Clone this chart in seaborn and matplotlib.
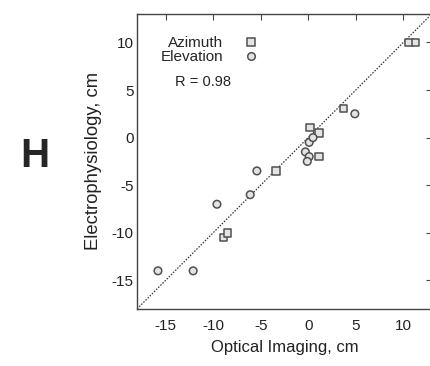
import matplotlib
matplotlib.use("Agg")
import matplotlib.pyplot as plt
import seaborn as sns
import pandas as pd

# 값
azi_x = [-8.9, -8.5, -3.4, 1.15, 0.2, 1.15, 3.7, 10.6, 11.3]
azi_y = [-10.5, -10.0, -3.5, -2.0, 1.05, 0.5, 3.05, 10.0, 10.0]
ele_x = [-15.8, -12.1, -9.6, -6.1, -5.4, -0.3, 0.1, -0.1, 0.1, 0.5, 4.9]
ele_y = [-14.0, -14.0, -7.0, -6.0, -3.5, -1.5, -2.0, -2.5, -0.5, 0.0, 2.5]
ticks = [-15, -10, -5, 0, 5, 10]
lims = [-18, 13]

df = pd.DataFrame({
    'x': azi_x + ele_x,
    'y': azi_y + ele_y,
    'kind': ['Azimuth'] * len(azi_x) + ['Elevation'] * len(ele_x),
})

sns.set_style('white')
plt.rcParams['font.family'] = ['Liberation Sans', 'DejaVu Sans']
plt.rcParams['axes.unicode_minus'] = False

fig = plt.figure(figsize=(4.31, 3.66), dpi=100)
ax = fig.add_axes([0.318, 0.156, 0.684, 0.806])

ax.plot(lims, lims, linestyle=(0, (1.2, 1.2)), color='#333333', lw=0.9, zorder=1)
sns.scatterplot(data=df, x='x', y='y', style='kind',
                markers={'Azimuth': 's', 'Elevation': 'o'},
                s=30, color='#e4e4e4', edgecolor='#505050', linewidth=1.1,
                ax=ax, zorder=3)

ax.set_xlim(lims)
ax.set_ylim(lims)
ax.set_xticks(ticks)
ax.set_yticks(ticks)
ax.tick_params(direction='in', top=True, right=True, length=4, width=0.8,
               color='#444444', labelsize=11, labelcolor='#222222')
ax.tick_params(axis='y', pad=2.5)
ax.tick_params(axis='x', pad=7)
for sp in ax.spines.values():
    sp.set_color('#444444')
    sp.set_linewidth(1.0)

ax.set_xlabel('Optical Imaging, cm', fontsize=12, color='#222222', labelpad=5)
ax.set_ylabel('Electrophysiology, cm', fontsize=13.3, color='#222222', labelpad=7)

leg = ax.legend(loc='upper left', markerfirst=False, frameon=False, fontsize=11,
                bbox_to_anchor=(0.06, 0.945), handletextpad=0.8, labelspacing=0.0,
                borderaxespad=0, markerscale=1.0)
ax.text(0.13, 0.755, 'R = 0.98', transform=ax.transAxes, fontsize=10.5, color='#222222')

fig.text(0.08, 0.575, 'H', fontsize=29, fontweight='bold', ha='center', va='center')

fig.savefig('out.png', dpi=100)
